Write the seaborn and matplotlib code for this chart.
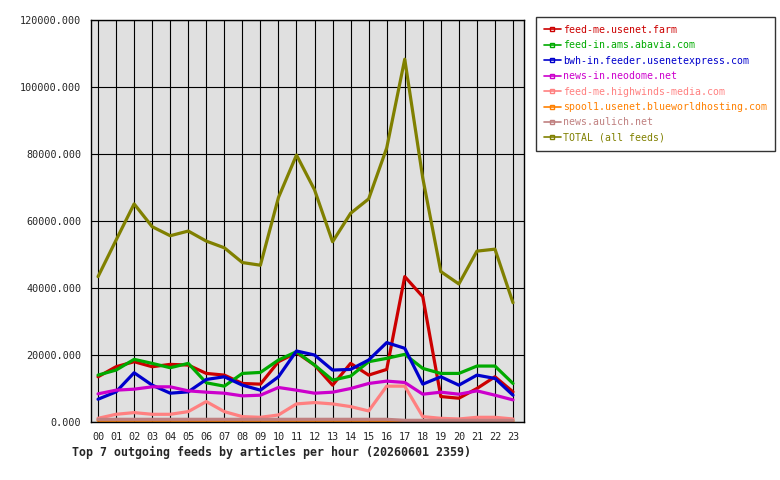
import pandas as pd
import seaborn as sns
import matplotlib
matplotlib.use("Agg")
import matplotlib.pyplot as plt
from matplotlib.lines import Line2D
from matplotlib.ticker import FuncFormatter, MultipleLocator

# 데이터
hours = [f"{h:02d}" for h in range(24)]
feeds = [
    "feed-me.usenet.farm",
    "feed-in.ams.abavia.com",
    "bwh-in.feeder.usenetexpress.com",
    "news-in.neodome.net",
    "feed-me.highwinds-media.com",
    "spool1.usenet.blueworldhosting.com",
    "news.aulich.net",
    "TOTAL (all feeds)",
]
colors = ["#cc0000", "#00aa00", "#0000cc", "#cc00cc",
          "#ff8080", "#ff8000", "#c08080", "#808000"]

usenet_farm = [13500, 16500, 18000, 16500, 17200, 17000, 14500, 14000, 11500, 11300, 18000, 20700,
               17000, 11000, 17500, 14000, 15700, 43400, 37400, 7600, 7100, 10000, 13500, 9000]
abavia = [14000, 15500, 18700, 17500, 16200, 17500, 11700, 10700, 14500, 14800, 18500, 21000,
          17000, 12500, 13700, 18000, 19000, 20200, 16000, 14500, 14500, 16700, 16700, 11500]
usenetexpress = [6800, 9000, 14700, 11000, 8600, 9000, 12700, 13500, 11000, 9500, 13500, 21200,
                 20000, 15500, 15700, 18500, 23700, 22000, 11300, 13500, 11000, 14000, 13000, 8000]
neodome = [8400, 9500, 9800, 10500, 10500, 9300, 8900, 8600, 7800, 8000, 10300, 9500,
           8600, 8900, 10000, 11500, 12200, 11800, 8300, 8900, 8300, 9300, 8000, 6600]
highwinds = [1100, 2300, 2800, 2300, 2300, 3100, 6100, 3100, 1600, 1400, 2100, 5400,
             5800, 5400, 4600, 3300, 10700, 10700, 1600, 1100, 900, 1400, 1400, 900]
blueworld = [500, 500, 500, 500, 500, 500, 500, 500, 500, 500, 500, 500,
             500, 500, 500, 500, 500, 300, 300, 300, 300, 300, 300, 300]
aulich = [800, 800, 800, 800, 800, 800, 800, 800, 800, 800, 800, 800,
          800, 800, 800, 800, 800, 500, 500, 500, 500, 500, 500, 500]
total = [43400, 54300, 65100, 58300, 55600, 57000, 54000, 52000, 47600, 46800, 67000, 79700,
         69300, 53800, 62300, 66600, 81800, 108300, 72800, 44900, 41200, 51000, 51600, 35600]

series = [usenet_farm, abavia, usenetexpress, neodome, highwinds, blueworld, aulich, total]

rows = []
for name, vals in zip(feeds, series):
    for h, v in enumerate(vals):
        rows.append({"hour": h, "articles": v, "feed": name})
df = pd.DataFrame(rows)

sns.set_style("white")
plt.rcParams["font.family"] = ["DejaVu Sans Mono"]

fig = plt.figure(figsize=(7.8, 4.8), dpi=100)
ax = fig.add_axes([91 / 780, 58 / 480, 433 / 780, 402 / 480])
ax.set_facecolor("#e0e0e0")

sns.lineplot(data=df, x="hour", y="articles", hue="feed", hue_order=feeds,
             palette=dict(zip(feeds, colors)), linewidth=2.3, legend=False, ax=ax)

ax.set_xlim(-0.39, 23.61)
ax.set_ylim(0, 120000)
ax.set_xticks(range(24))
ax.set_xticklabels(hours)
ax.yaxis.set_major_locator(MultipleLocator(20000))
ax.yaxis.set_major_formatter(FuncFormatter(lambda v, p: f"{v:.3f}"))
ax.grid(True, color="black", linewidth=0.8)
ax.set_axisbelow(True)
for s in ax.spines.values():
    s.set_color("black")
    s.set_linewidth(1)
ax.tick_params(axis="both", direction="out", length=4, width=0.8, color="black",
               labelsize=7.3, pad=3)
ax.set_xlabel("")
ax.set_ylabel("")

# 범례
handles = [Line2D([0], [0], color=c, linewidth=1.2, marker="s", markersize=2.5,
                  markerfacecolor="none", markeredgecolor=c) for c in colors]
leg = fig.legend(handles, feeds, loc="upper left", bbox_to_anchor=(536 / 780, 1 - 17 / 480),
                 frameon=True, fancybox=False, edgecolor="black", fontsize=7.1,
                 handlelength=1.7, handletextpad=0.2, labelspacing=0.55,
                 borderaxespad=0, borderpad=0.8)
leg.get_frame().set_linewidth(1)
for txt, c in zip(leg.get_texts(), colors):
    txt.set_color(c)

fig.text(72 / 780, 1 - 452 / 480, "Top 7 outgoing feeds by articles per hour (20260601 2359)",
         fontsize=8.4, fontweight="bold", va="center", ha="left")

fig.savefig("out.png", dpi=100)
